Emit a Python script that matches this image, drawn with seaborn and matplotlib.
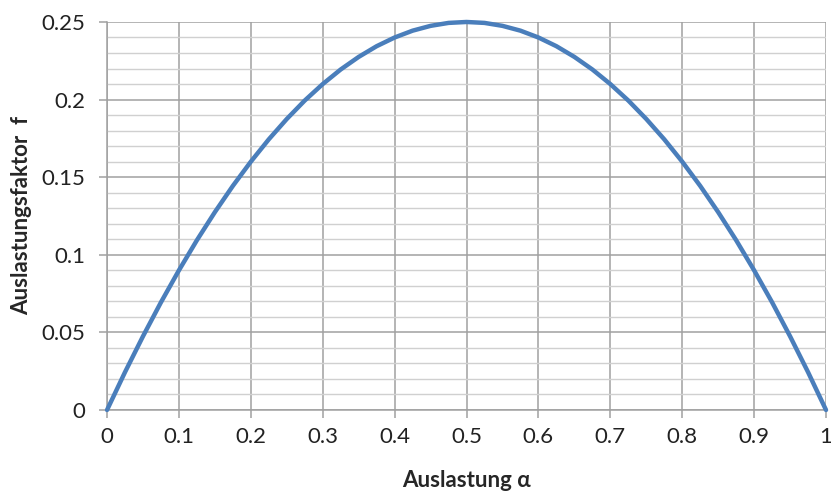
import numpy as np
import pandas as pd
import seaborn as sns
import matplotlib.pyplot as plt
from matplotlib.ticker import MultipleLocator

# values
alpha = [0.0, 0.025, 0.05, 0.075, 0.1, 0.125, 0.15, 0.175, 0.2, 0.225, 0.25,
         0.275, 0.3, 0.325, 0.35, 0.375, 0.4, 0.425, 0.45, 0.475, 0.5,
         0.525, 0.55, 0.575, 0.6, 0.625, 0.65, 0.675, 0.7, 0.725, 0.75,
         0.775, 0.8, 0.825, 0.85, 0.875, 0.9, 0.925, 0.95, 0.975, 1.0]
faktor = [0.0, 0.0244, 0.0475, 0.0694, 0.09, 0.1094, 0.1275, 0.1444, 0.16, 0.1744, 0.1875,
          0.1994, 0.21, 0.2194, 0.2275, 0.2344, 0.24, 0.2444, 0.2475, 0.2494, 0.25,
          0.2494, 0.2475, 0.2444, 0.24, 0.2344, 0.2275, 0.2194, 0.21, 0.1994, 0.1875,
          0.1744, 0.16, 0.1444, 0.1275, 0.1094, 0.09, 0.0694, 0.0475, 0.0244, 0.0]
x_ticks = [0, 0.1, 0.2, 0.3, 0.4, 0.5, 0.6, 0.7, 0.8, 0.9, 1]
x_labels = ['0', '0.1', '0.2', '0.3', '0.4', '0.5', '0.6', '0.7', '0.8', '0.9', '1']
y_ticks = [0, 0.05, 0.1, 0.15, 0.2, 0.25]
y_labels = ['0', '0.05', '0.1', '0.15', '0.2', '0.25']

df = pd.DataFrame({'alpha': alpha, 'f': faktor})

sns.set_style('white')
plt.rcParams['font.family'] = ['Lato', 'DejaVu Sans']

fig = plt.figure(figsize=(8.31, 4.95), dpi=100)
ax = fig.add_axes([0.1288, 0.1717, 0.994 - 0.1288, 0.9556 - 0.1717])

sns.lineplot(data=df, x='alpha', y='f', ax=ax, color='#4a7ebb', linewidth=3.2,
             clip_on=False, zorder=5)

ax.set_xlim(0, 1)
ax.set_ylim(0, 0.25)
ax.set_xticks(x_ticks)
ax.set_xticklabels(x_labels)
ax.set_yticks(y_ticks)
ax.set_yticklabels(y_labels)
ax.yaxis.set_minor_locator(MultipleLocator(0.01))

ax.grid(True, which='major', color='#a0a0a0', linewidth=1.1)
ax.grid(True, which='minor', axis='y', color='#d0d0d0', linewidth=1.0)
ax.set_axisbelow(True)

for side in ['top', 'right']:
    ax.spines[side].set_visible(False)
for side in ['left', 'bottom']:
    ax.spines[side].set_color('#a0a0a0')
    ax.spines[side].set_linewidth(1.1)

ax.tick_params(axis='both', which='major', direction='out', length=5.5, width=1.1,
               color='#a0a0a0', labelsize=16, labelcolor='#222222', bottom=True, left=True)
ax.tick_params(axis='x', pad=7)
ax.tick_params(axis='y', pad=10)
ax.tick_params(which='minor', length=0)

ax.set_xlabel('Auslastung α', fontsize=16, fontweight='bold', labelpad=16)
ax.set_ylabel('Auslastungsfaktor  f', fontsize=16, fontweight='bold', labelpad=7)

fig.savefig('out.png', dpi=100)
